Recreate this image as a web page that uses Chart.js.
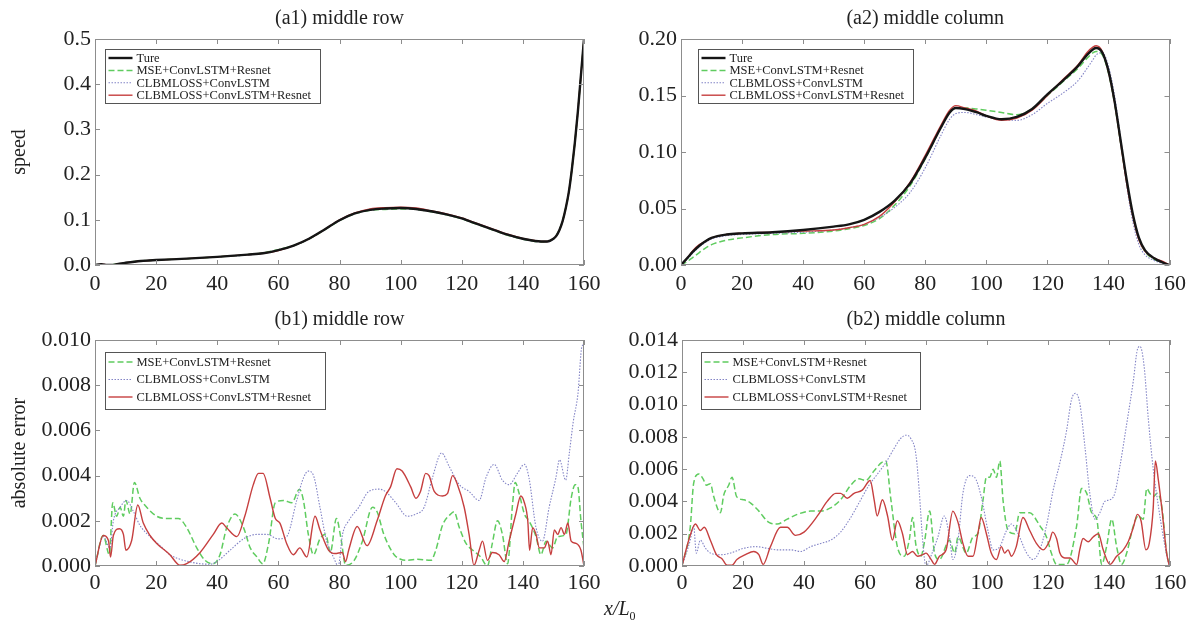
<!DOCTYPE html>
<html>
<head>
<meta charset="utf-8">
<script src="https://cdn.jsdelivr.net/npm/chart.js@4.4.1/dist/chart.umd.min.js"></script>
<style>
  body { margin: 0; background: #fff; }
  #wrap { position: relative; width: 1192px; height: 624px; overflow: hidden; }
  .cell { position: absolute; }
  .xlab { position: absolute; left: 604px; top: 597px; font: italic 20px "Liberation Serif", serif; color: #222; }
  .xlab sub { font-style: normal; font-size: 12px; }
</style>
</head>
<body>
<div id="wrap">
  <div class="cell" style="left:0;top:0;width:610px;height:300px"><canvas id="a1"></canvas></div>
  <div class="cell" style="left:600px;top:0;width:592px;height:300px"><canvas id="a2"></canvas></div>
  <div class="cell" style="left:0;top:300px;width:610px;height:300px"><canvas id="b1"></canvas></div>
  <div class="cell" style="left:600px;top:300px;width:592px;height:300px"><canvas id="b2"></canvas></div>
  <div class="xlab">x/L<sub>0</sub></div>
</div>
<script>
/**************************************************************
 * Data
 **************************************************************/
const xTicks = [0, 20, 40, 60, 80, 100, 120, 140, 160];
const a1YTicks = [0, 0.1, 0.2, 0.3, 0.4, 0.5];
const a2YTicks = [0, 0.05, 0.10, 0.15, 0.20];
const b1YTicks = [0, 0.002, 0.004, 0.006, 0.008, 0.010];
const b2YTicks = [0, 0.002, 0.004, 0.006, 0.008, 0.010, 0.012, 0.014];

const seriesNames = ["Ture", "MSE+ConvLSTM+Resnet", "CLBMLOSS+ConvLSTM", "CLBMLOSS+ConvLSTM+Resnet"];

// (a1) middle row - speed
const a1X = [0,2,4,6,8,10,15,20,30,40,50,55,60,65,70,75,80,85,90,95,100,105,110,115,120,125,130,135,140,144,146,148,150,151,152,153,154,155,156,157,158,159,160];
const a1True = [0,0.002,0,0,0.003,0.005,0.009,0.011,0.014,0.018,0.023,0.026,0.033,0.043,0.058,0.078,0.099,0.114,0.122,0.125,0.126,0.124,0.119,0.112,0.103,0.091,0.079,0.067,0.058,0.053,0.052,0.052,0.058,0.065,0.078,0.097,0.125,0.16,0.21,0.27,0.34,0.42,0.5];
const a1Mse = [0,0.001,0,0.001,0.003,0.005,0.009,0.011,0.014,0.018,0.023,0.027,0.034,0.043,0.057,0.077,0.098,0.113,0.121,0.123,0.124,0.123,0.118,0.111,0.102,0.090,0.078,0.066,0.057,0.052,0.051,0.052,0.058,0.066,0.079,0.098,0.126,0.16,0.21,0.27,0.34,0.42,0.5];
const a1Conv = [0,0.002,0.001,0.001,0.003,0.005,0.009,0.011,0.014,0.018,0.022,0.026,0.033,0.042,0.057,0.077,0.098,0.113,0.121,0.124,0.125,0.123,0.118,0.111,0.102,0.090,0.078,0.066,0.057,0.052,0.051,0.051,0.057,0.064,0.077,0.096,0.124,0.16,0.21,0.27,0.34,0.42,0.5];
const a1Res = [0,0.002,0,0,0.003,0.005,0.009,0.011,0.014,0.018,0.023,0.026,0.032,0.043,0.058,0.078,0.100,0.115,0.124,0.127,0.128,0.126,0.120,0.113,0.104,0.092,0.080,0.068,0.059,0.054,0.052,0.052,0.058,0.065,0.078,0.097,0.125,0.16,0.21,0.27,0.34,0.42,0.5];

// (a2) middle column - speed
const a2X = [0,2,4,6,8,10,15,20,30,40,50,55,60,65,70,75,80,85,88,90,93,97,100,105,110,115,120,125,130,133,135,136,138,140,142,144,146,148,150,152,155,158,160];
const a2True = [0,0.006,0.012,0.017,0.021,0.024,0.027,0.028,0.029,0.031,0.034,0.036,0.040,0.047,0.057,0.072,0.095,0.121,0.135,0.139,0.138,0.135,0.132,0.129,0.131,0.138,0.151,0.163,0.176,0.186,0.191,0.192,0.188,0.172,0.145,0.110,0.075,0.045,0.024,0.013,0.006,0.002,0];
const a2Mse = [0,0.003,0.007,0.011,0.015,0.018,0.022,0.024,0.027,0.028,0.030,0.032,0.035,0.041,0.053,0.070,0.094,0.121,0.135,0.139,0.139,0.138,0.137,0.135,0.133,0.138,0.150,0.162,0.174,0.183,0.188,0.189,0.186,0.170,0.143,0.108,0.073,0.044,0.023,0.012,0.005,0.002,0];
const a2Conv = [0,0.005,0.011,0.016,0.020,0.023,0.026,0.027,0.028,0.029,0.031,0.033,0.036,0.042,0.051,0.064,0.086,0.114,0.129,0.134,0.135,0.133,0.131,0.129,0.128,0.133,0.143,0.152,0.163,0.174,0.182,0.186,0.188,0.176,0.150,0.112,0.070,0.038,0.018,0.009,0.004,0.001,0];
const a2Res = [0,0.006,0.013,0.018,0.021,0.024,0.027,0.028,0.029,0.030,0.031,0.033,0.036,0.043,0.056,0.073,0.097,0.123,0.137,0.141,0.139,0.136,0.132,0.128,0.130,0.137,0.150,0.164,0.177,0.188,0.193,0.194,0.189,0.171,0.144,0.108,0.072,0.043,0.022,0.012,0.006,0.003,0];

// (b1) middle row - absolute error, [x, error]
const b1Mse = [[0,0],[2.7,0.00135],[4.7,0.0005],[5.8,0.0028],[7.1,0.0022],[8.2,0.0026],[9.3,0.0022],[10.1,0.0029],[11.5,0.0023],[12.9,0.0037],[14.7,0.003],[16.9,0.0026],[20.2,0.0022],[23.5,0.0021],[27.3,0.0021],[30,0.0017],[33.3,0.0008],[36,0.00025],[38.7,0.0001],[40.9,0.0005],[43.1,0.0017],[45.8,0.0023],[48.6,0.0017],[50.8,0.0008],[53,0.0004],[54.9,0.0001],[56.8,0.001],[59,0.0028],[61.7,0.0029],[64.4,0.0028],[66.9,0.0034],[68.2,0.0029],[69.8,0.0014],[71.5,0.0005],[73.6,0.0012],[75.5,0.0014],[77,0.0006],[79,0.0021],[80.5,0.0012],[82,0.00003],[84.8,0.00025],[87.5,0.0011],[90.8,0.0026],[92.3,0.0024],[94.5,0.0014],[97.9,0.0005],[100,0.0003],[102.2,0.00025],[105.5,0.0003],[109.9,0.00025],[111.5,0.0007],[113.7,0.0018],[116.4,0.0023],[117.5,0.0024],[119.2,0.0017],[121.4,0.001],[123.6,0.0007],[126.2,0.0004],[128.4,0],[130,0.001],[131.7,0.002],[133.3,0.0014],[135,0.0001],[136.6,0.0027],[137.5,0.0037],[138.8,0.0032],[140.5,0.0023],[142,0.002],[144.3,0.0013],[145.9,0.0005],[147.6,0.0011],[149.7,0.0008],[151.4,0.0013],[154.1,0.0014],[155.8,0.003],[157.1,0.0036],[158,0.0035],[159,0.002],[160,0.0008]];
const b1Conv = [[0,0],[2.7,0.0013],[4.9,0.0008],[6,0.002],[8.2,0.0026],[10.4,0.0029],[12.6,0.0024],[14.7,0.0018],[18,0.0013],[21.3,0.0009],[24.5,0.0005],[27.8,0.0003],[31.1,0.00018],[34.4,0.0001],[37.6,0.00008],[40.4,0.00025],[44.2,0.0007],[48.6,0.0012],[53,0.0014],[56.2,0.0014],[60,0.0012],[62.7,0.0013],[66,0.0029],[68.2,0.0039],[69.8,0.0042],[71.5,0.004],[73.6,0.0026],[75.8,0.0011],[78,0.0004],[79.6,0],[81,0.0014],[83,0.002],[86.3,0.0026],[89.6,0.0033],[93,0.0034],[95,0.0033],[98.4,0.0028],[102.2,0.0022],[105,0.0023],[107.7,0.0026],[110.4,0.0039],[113.4,0.005],[115.9,0.0044],[119.2,0.0036],[122.4,0.0033],[125.7,0.0029],[127.9,0.0039],[130.6,0.0045],[133.3,0.0038],[135.5,0.0036],[138.2,0.0041],[140.5,0.0045],[142,0.0039],[144.3,0.0017],[146.4,0.0011],[148.6,0.0026],[150.8,0.0039],[152,0.0047],[154,0.0038],[155.2,0.005],[156.5,0.0064],[158,0.0076],[159.3,0.0097],[160,0.0098]];
const b1Res = [[0,0],[2.7,0.00135],[4.4,0.00113],[5.1,0.0004],[6,0.00135],[8,0.00165],[9.3,0.0014],[10.1,0.0007],[12,0.00113],[14,0.0027],[15.8,0.0019],[18,0.00135],[20.2,0.001],[24.5,0.0005],[27.8,0.00003],[30,0.0001],[34.4,0.0006],[38.7,0.0014],[41.5,0.0019],[43,0.0017],[46.4,0.0013],[49,0.0022],[51.8,0.0036],[53.5,0.0041],[55,0.0041],[57.3,0.003],[59,0.0021],[60.5,0.0019],[62.7,0.001],[64.9,0.0005],[67,0.0008],[69.3,0.0004],[72,0.0022],[73.6,0.0016],[76.4,0.0007],[78.5,0.00055],[80.9,0.0006],[82,0.0002],[83,0.0007],[85.8,0.00175],[89,0.0009],[92.3,0.002],[95,0.0031],[96.7,0.0035],[98.8,0.0043],[100.5,0.0042],[103.3,0.0035],[105,0.003],[106.5,0.0033],[108.2,0.0041],[109.3,0.004],[111,0.0033],[113.7,0.0031],[115.3,0.0032],[117,0.004],[118.6,0.0036],[120.8,0.0026],[122.4,0.0014],[124,0.00003],[125.7,0.0007],[126.8,0.0011],[128.4,0.00025],[130,0.0006],[132.2,0.0005],[133.9,0.0002],[135.5,0.0011],[137.7,0.0023],[139.3,0.0031],[140.5,0.0028],[141.6,0.002],[142.2,0.0007],[143.2,0.0017],[144.3,0.0014],[145.4,0.0008],[147,0.0008],[148.1,0.0011],[149.2,0.0005],[150.3,0.0016],[151.4,0.0014],[152.5,0.0017],[153.6,0.0014],[154.7,0.0019],[155.8,0.0011],[157.4,0.001],[159,0.0007],[160,0]];

// (b2) middle column - absolute error, [x, error]
const b2Mse = [[0,0],[2.7,0.0024],[3.8,0.0051],[5.5,0.0057],[6.9,0.0054],[8,0.005],[9.3,0.0051],[10.4,0.0043],[12.6,0.0033],[13.7,0.0044],[15.3,0.005],[16.4,0.0055],[17.9,0.0043],[20.3,0.0041],[22.5,0.0039],[25.2,0.0034],[28.5,0.0027],[31.2,0.0026],[34.5,0.0029],[37.8,0.0032],[42.2,0.0034],[45.5,0.0034],[48.7,0.0036],[52,0.0041],[55.3,0.005],[58,0.0054],[60.2,0.0053],[63,0.0059],[65.4,0.0064],[66.8,0.0065],[68.5,0.0041],[70.6,0.0012],[72.8,0.0006],[74.5,0.0016],[75.6,0.003],[76.7,0.0013],[78.3,0.0006],[79.5,0.0015],[81.2,0.0034],[82.8,0.0008],[84.4,0.0004],[87.7,0.0016],[89.4,0.0008],[90.5,0.0018],[93.2,0.0008],[95.4,0.0018],[97,0.002],[98.7,0.0041],[99.8,0.0055],[100.9,0.0055],[102,0.006],[103.1,0.0055],[104.2,0.0065],[105.3,0.004],[106.9,0.0022],[109.1,0.002],[110.7,0.0033],[114,0.0033],[117.3,0.0025],[119.5,0.0018],[121.1,0.0008],[122.8,0.0001],[126.1,0.0001],[129.4,0.0025],[131,0.0048],[132.7,0.0045],[134.3,0.0033],[136,0.0029],[137.6,0.0001],[139.2,0.0012],[140.9,0.0029],[142.5,0.0012],[144.1,0.0001],[145.8,0.0008],[148,0.0025],[149.6,0.0031],[151.2,0.0029],[152.4,0.0048],[153.4,0.0045],[154.5,0.0043],[155.8,0.0045],[157.3,0.0037],[158.9,0.0008],[160,0]];
const b2Conv = [[0,0],[2.7,0.0016],[3.8,0.0025],[4.7,0.0008],[6,0.0016],[7.7,0.0011],[9.3,0.0008],[12.6,0.0007],[15.9,0.0008],[20.3,0.0011],[24.1,0.0012],[27.9,0.0011],[31.2,0.001],[35.6,0.001],[38.9,0.0009],[42.2,0.0012],[45.5,0.0014],[48.7,0.0016],[52,0.0021],[55.3,0.003],[58.6,0.0041],[61.3,0.005],[64.1,0.0057],[66.8,0.0064],[69.6,0.0073],[71.7,0.0079],[73.4,0.0081],[75,0.0079],[76.7,0.0069],[77.8,0.0046],[78.9,0.0016],[80,0],[82,0.0008],[83.9,0.0018],[86,0.0031],[87.7,0.0018],[88.8,0.0004],[90.5,0.0016],[92.1,0.0045],[94.3,0.0056],[95.9,0.0055],[98.1,0.0043],[100.3,0.0022],[102,0.001],[104.2,0.0012],[106.4,0.0022],[108,0.0026],[110.2,0.002],[113,0.0008],[115.1,0.0004],[117.3,0.001],[119.5,0.0025],[121.7,0.0047],[123.9,0.0064],[126.1,0.0084],[127.7,0.0103],[129,0.0107],[130.4,0.0101],[132.1,0.0074],[133.7,0.0045],[135.4,0.0029],[137,0.0033],[138.6,0.004],[140.3,0.0041],[141.9,0.0045],[143.6,0.0062],[145.8,0.0088],[148,0.0115],[149.3,0.0134],[150.2,0.0136],[151.5,0.0124],[152.9,0.0091],[154.5,0.006],[156.2,0.0037],[157.8,0.0018],[159.5,0.0002],[160,0]];
const b2Res = [[0,0],[2.2,0.0016],[4.4,0.0026],[6,0.0022],[7.3,0.0024],[9.3,0.0016],[11.3,0.0007],[13.1,0.00045],[14.8,0.00005],[16.4,0.00005],[18,0.0004],[20.8,0.0007],[23.5,0.0009],[25.2,0.0007],[26.6,0.0001],[29,0.0012],[32.3,0.0024],[34.5,0.0024],[37.2,0.0019],[40,0.0021],[44.4,0.0031],[47.6,0.004],[50.4,0.0045],[52,0.0045],[54.2,0.0042],[56.4,0.0045],[59.1,0.0047],[61.7,0.0053],[63,0.0041],[64,0.0031],[65.7,0.0041],[67.4,0.0031],[69,0.0016],[70.6,0.0028],[72.3,0.002],[73.9,0.0007],[75.6,0.0009],[77.2,0.0006],[78.9,0.0007],[80,0.0008],[81.7,0.0004],[82.8,0.0001],[84.4,0.0006],[86.6,0.001],[88.8,0.0034],[90.5,0.0027],[92.1,0.0014],[93.8,0.0006],[95.4,0.0006],[97,0.002],[98.1,0.003],[99.8,0.002],[101.4,0.0008],[103.1,0.0004],[104.7,0.0012],[105.8,0.0008],[106.9,0.001],[108,0.0006],[109.6,0.0012],[111.8,0.003],[114,0.0022],[116.2,0.0014],[118.4,0.001],[120.6,0.0016],[121.5,0.0021],[122.8,0.0017],[123.9,0.0008],[125.5,0.0005],[127.2,0.0005],[129.4,0.0001],[130.4,0.001],[131.5,0.0017],[133.2,0.0015],[134.8,0.0018],[136.5,0.002],[138.1,0.001],[140.3,0.0001],[142.5,0.0006],[144.7,0.001],[146.3,0.0015],[148,0.0024],[149.3,0.0032],[150.5,0.0028],[152.1,0.001],[153.2,0.0014],[154.5,0.0036],[155.2,0.0065],[156.2,0.0053],[157.3,0.0036],[158.9,0.0008],[159.8,0]];

/**************************************************************
 * Styles
 **************************************************************/
const FONT = '"Liberation Serif", "Times New Roman", serif';
const TEXT = "#222";
// order: lower draws on top (true curve on top of the predictions)
const styles = [
  { borderColor: "#151515", borderWidth: 2.4, borderDash: [], order: 0 },
  { borderColor: "#5fcc5f", borderWidth: 1.5, borderDash: [6, 3], order: 3 },
  { borderColor: "#8384c6", borderWidth: 1.1, borderDash: [1.5, 1.5], order: 2 },
  { borderColor: "#c63f3f", borderWidth: 1.4, borderDash: [], order: 1 }
];

const zipXY = (xs, ys) => xs.map((x, i) => ({ x, y: ys[i] }));
const fromPairs = (pairs) => pairs.map(([x, y]) => ({ x, y }));

function makeSet(idx, data) {
  return Object.assign({
    label: seriesNames[idx],
    data,
    pointRadius: 0,
    fill: false,
    cubicInterpolationMode: "monotone"
  }, styles[idx]);
}

// frame + inward tick marks on all four sides
const framePlugin = {
  id: "frame",
  afterDatasetsDraw(chart) {
    const { ctx, chartArea: a, scales: { x, y } } = chart;
    ctx.save();
    ctx.strokeStyle = "#8d8d8d";
    ctx.lineWidth = 1;
    ctx.strokeRect(Math.round(a.left) + 0.5, Math.round(a.top) + 0.5,
      Math.round(a.width) - 1, Math.round(a.height) - 1);
    ctx.beginPath();
    x.ticks.forEach(t => {
      const px = Math.round(x.getPixelForValue(t.value)) + 0.5;
      ctx.moveTo(px, a.bottom); ctx.lineTo(px, a.bottom - 5);
      ctx.moveTo(px, a.top); ctx.lineTo(px, a.top + 5);
    });
    y.ticks.forEach(t => {
      const py = Math.round(y.getPixelForValue(t.value)) + 0.5;
      ctx.moveTo(a.left, py); ctx.lineTo(a.left + 5, py);
      ctx.moveTo(a.right, py); ctx.lineTo(a.right - 5, py);
    });
    ctx.stroke();
    ctx.restore();
  }
};

// boxed legend inside the plot area
const boxLegend = {
  id: "boxLegend",
  afterDatasetsDraw(chart, args, o) {
    const { ctx, chartArea: a } = chart;
    const left = Math.round(a.left + o.dx) + 0.5;
    const top = Math.round(a.top + o.dy) + 0.5;
    ctx.save();
    ctx.fillStyle = "#fff";
    ctx.fillRect(left, top, o.w, o.h);
    ctx.strokeStyle = "#555";
    ctx.lineWidth = 1;
    ctx.strokeRect(left, top, o.w, o.h);
    ctx.font = "12.5px " + FONT;
    ctx.textBaseline = "middle";
    chart.data.datasets.forEach((ds, i) => {
      const yy = top + o.first + i * o.row;
      ctx.strokeStyle = ds.borderColor;
      ctx.lineWidth = ds.borderWidth;
      ctx.setLineDash(ds.borderDash);
      ctx.beginPath();
      ctx.moveTo(left + 3, yy);
      ctx.lineTo(left + 27, yy);
      ctx.stroke();
      ctx.setLineDash([]);
      ctx.fillStyle = TEXT;
      ctx.fillText(ds.label, left + 31, yy + 0.5);
    });
    ctx.restore();
  }
};

function makeChart(id, cfg) {
  new Chart(document.getElementById(id), {
    type: "line",
    data: { datasets: cfg.sets },
    plugins: [framePlugin, boxLegend],
    options: {
      responsive: true,
      maintainAspectRatio: false,
      animation: false,
      layout: { padding: { left: 0, right: cfg.padRight, top: 0, bottom: 0 } },
      plugins: {
        legend: { display: false },
        tooltip: { enabled: false },
        title: {
          display: true,
          fullSize: false,   // centre over the plot area, like the original
          text: cfg.title,
          color: TEXT,
          font: { family: FONT, size: 20, weight: "normal", lineHeight: 1.2 },
          padding: { top: cfg.titleTop, bottom: cfg.titleBottom }
        },
        boxLegend: cfg.legend
      },
      scales: {
        x: {
          type: "linear",
          min: 0,
          max: 160,
          grid: { display: false, drawTicks: false },
          border: { display: false },
          afterBuildTicks: s => { s.ticks = xTicks.map(value => ({ value })); },
          afterFit: s => { s.height = cfg.xHeight; },
          ticks: {
            color: TEXT,
            padding: cfg.xPad,
            maxRotation: 0,
            font: { family: FONT, size: 22 },
            callback: v => String(v)
          }
        },
        y: {
          type: "linear",
          min: 0,
          max: cfg.yTicks[cfg.yTicks.length - 1],
          grid: { display: false, drawTicks: false },
          border: { display: false },
          afterBuildTicks: s => { s.ticks = cfg.yTicks.map(value => ({ value })); },
          afterFit: s => { s.width = cfg.yWidth; },
          ticks: {
            color: TEXT,
            padding: 4,
            font: { family: FONT, size: 22 },
            callback: v => Number(v).toFixed(cfg.decimals)
          },
          title: {
            display: !!cfg.yTitle,
            text: cfg.yTitle || "",
            color: TEXT,
            font: { family: FONT, size: 20, lineHeight: 1.2 },
            padding: { top: 8, bottom: 0 }
          }
        }
      }
    }
  });
}

const legendA = { dx: 10, dy: 10, w: 215, h: 54, first: 8.5, row: 12.4 };
const legendB = { dx: 10, dy: 12, w: 220, h: 57, first: 9.5, row: 17.5 };

makeChart("a1", {
  title: "(a1) middle row",
  titleTop: 7, titleBottom: 8,
  yTitle: "speed", yTicks: a1YTicks, decimals: 1,
  yWidth: 95, xHeight: 35, xPad: 6, padRight: 26,
  legend: legendA,
  sets: [makeSet(0, zipXY(a1X, a1True)), makeSet(1, zipXY(a1X, a1Mse)),
         makeSet(2, zipXY(a1X, a1Conv)), makeSet(3, zipXY(a1X, a1Res))]
});

makeChart("a2", {
  title: "(a2) middle column",
  titleTop: 7, titleBottom: 8,
  yTicks: a2YTicks, decimals: 2,
  yWidth: 81, xHeight: 35, xPad: 6, padRight: 22,
  legend: Object.assign({}, legendA, { dx: 17 }),
  sets: [makeSet(0, zipXY(a2X, a2True)), makeSet(1, zipXY(a2X, a2Mse)),
         makeSet(2, zipXY(a2X, a2Conv)), makeSet(3, zipXY(a2X, a2Res))]
});

makeChart("b1", {
  title: "(b1) middle row",
  titleTop: 8, titleBottom: 8,
  yTitle: "absolute error", yTicks: b1YTicks, decimals: 3,
  yWidth: 95, xHeight: 34, xPad: 4, padRight: 26,
  legend: legendB,
  sets: [makeSet(1, fromPairs(b1Mse)), makeSet(2, fromPairs(b1Conv)), makeSet(3, fromPairs(b1Res))]
});

makeChart("b2", {
  title: "(b2) middle column",
  titleTop: 8, titleBottom: 8,
  yTicks: b2YTicks, decimals: 3,
  yWidth: 82, xHeight: 34, xPad: 4, padRight: 22,
  legend: Object.assign({}, legendB, { dx: 19, w: 219 }),
  sets: [makeSet(1, fromPairs(b2Mse)), makeSet(2, fromPairs(b2Conv)), makeSet(3, fromPairs(b2Res))]
});
</script>
</body>
</html>
